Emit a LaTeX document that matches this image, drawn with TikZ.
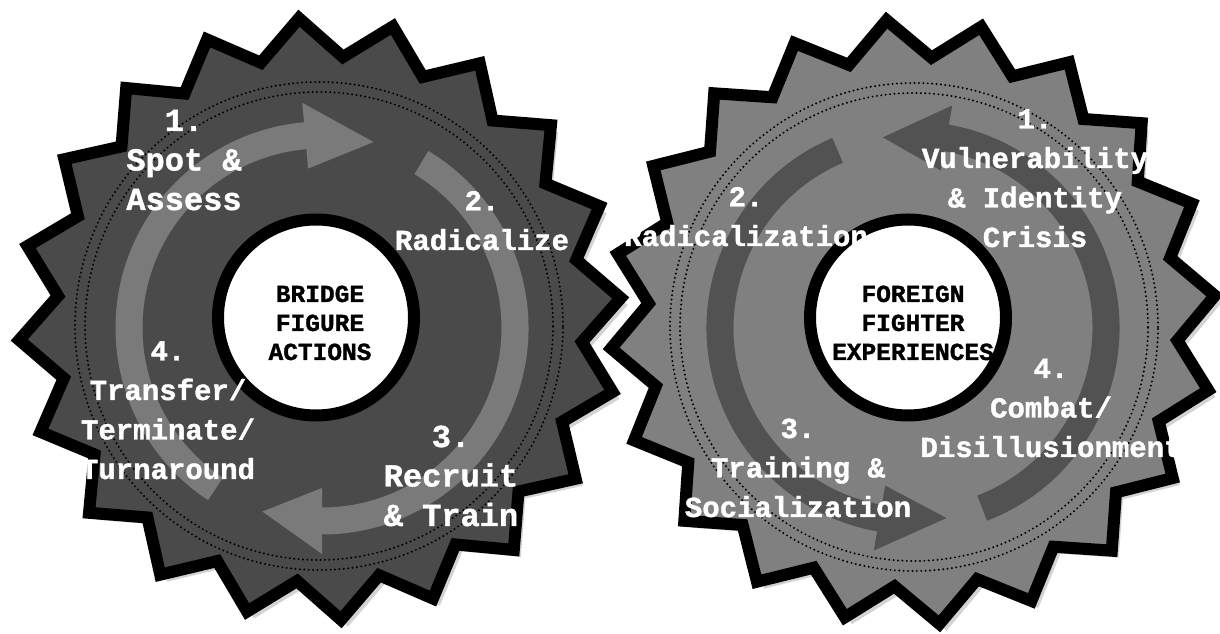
\documentclass[tikz,border=0pt]{standalone}
\usepackage{fontspec}
\newfontfamily\gearfont{Liberation Mono}[BoldFeatures={FakeBold=1.3}]
\usetikzlibrary{calc,shadows}
\definecolor{leftgear}{gray}{0.29}
\definecolor{leftarrow}{gray}{0.48}
\definecolor{rightgear}{gray}{0.50}
\definecolor{rightarrow}{gray}{0.32}
\tikzset{gear/.style={draw=black,line width=12pt,line join=miter,
    drop shadow={shadow xshift=7pt,shadow yshift=-7pt,opacity=.35}},
  dotring/.style={draw=black,line width=2.2pt,dash pattern=on 0pt off 4.4pt,line cap=round},
  hub/.style={circle,draw=black,line width=12pt,fill=white,minimum size=196pt,inner sep=0pt},
  hubtext/.style={font=\gearfont\bfseries\fontsize{24.5}{29}\selectfont,align=center,inner sep=0pt,anchor=base},
  steplbl/.style={text=white,font=\gearfont\bfseries\fontsize{29}{39.5}\selectfont,align=center,inner sep=0pt,anchor=base},
  biglbl/.style={steplbl,font=\gearfont\bfseries\fontsize{32}{39.5}\selectfont}}
% #1 centre, #2 tail angle, #3 head angle, #4 tip angle, #5 colour
\newcommand{\ringarrow}[5]{%
  \fill[#5] ($(#1)+(#2:206.5)$) arc[start angle=#2,end angle=#3,radius=206.5]
    -- ($(#1)+(#3:226)$) -- ($(#1)+(#4:193)$) -- ($(#1)+(#3:160)$)
    -- ($(#1)+(#3:179.5)$) arc[start angle=#3,end angle=#2,radius=179.5] -- cycle;}
\begin{document}
\begin{tikzpicture}[x=1pt,y=1pt]
  \useasboundingbox (0,0) rectangle (1220,634);
  \coordinate (lc) at (320,315);
  \coordinate (rc) at (913,312);
  \coordinate (lr) at (322,306);
  \coordinate (rr) at (913,306);
  % gears
  \draw[gear,fill=leftgear] ($(lc)+(4:301.5)$)
    \foreach \k in {0,...,18} { -- ($(lc)+(13+18*\k:263)$) -- ($(lc)+(22+18*\k:301.5)$) }
    -- ($(lc)+(355:263)$) -- cycle;
  \draw[gear,fill=rightgear] ($(rc)+(5:303)$)
    \foreach \k in {0,...,18} { -- ($(rc)+(14+18*\k:265)$) -- ($(rc)+(23+18*\k:303)$) }
    -- ($(rc)+(356:265)$) -- cycle;
  % dotted rings
  \draw[dotring] (319,308) circle[radius=244];
  \draw[dotring] (319,308) circle[radius=234];
  \draw[dotring] (914,307) circle[radius=244];
  \draw[dotring] (914,307) circle[radius=234];
  % cycle arrows
  \ringarrow{lr}{236.5}{95}{74.5}{leftarrow}
  \ringarrow{lr}{59}{-90}{-108}{leftarrow}
  \ringarrow{rr}{-69}{80}{99}{rightarrow}
  \ringarrow{rr}{113}{260}{280}{rightarrow}
  % hubs
  \node[hub] (bfhub) at (316,316.5) {};
  \node[hub] (ffhub) at (908,316.5) {};
  \node[hubtext] (bftext) at (320,274) {BRIDGE\\FIGURE\\ACTIONS};
  \node[hubtext] (fftext) at (913,274) {FOREIGN\\FIGHTER\\EXPERIENCES};
  % steps
  \node[biglbl] (bfstep1) at (184,424) {1.\\Spot \&\\Assess};
  \node[steplbl] (bfstep2) at (482,384) {2.\\Radicalize};
  \node[biglbl] (bfstep3) at (451,108) {3.\\Recruit\\\& Train};
  \node[steplbl] (bfstep4) at (168,155) {4.\\Transfer/\\Terminate/\\Turnaround};
  \node[steplbl] (ffstep1) at (1035,387) {1.\\Vulnerability\\\& Identity\\Crisis};
  \node[steplbl] (ffstep2) at (746,388) {2.\\Radicalization};
  \node[steplbl] (ffstep3) at (798,117) {3.\\Training \&\\Socialization};
  \node[steplbl] (ffstep4) at (1051,177) {4.\\Combat/\\Disillusionment};
\end{tikzpicture}
\end{document}
